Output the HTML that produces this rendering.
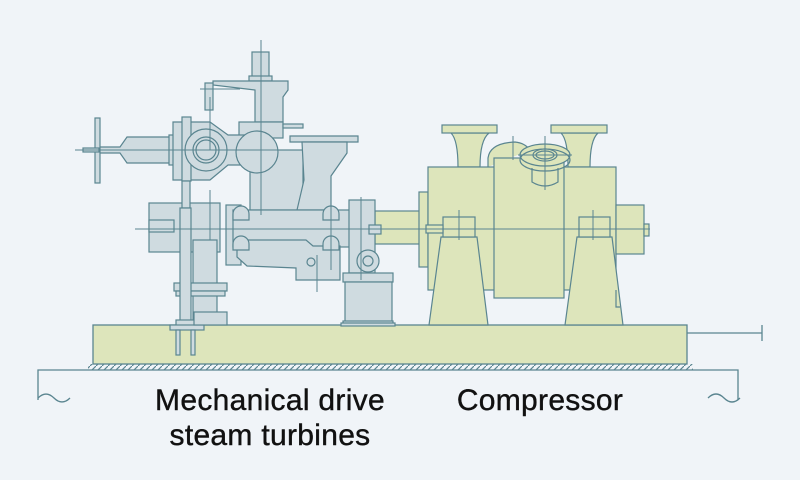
<!DOCTYPE html>
<html><head><style>
html,body{margin:0;padding:0;background:#f0f4f8;}
svg{display:block}
text{font-family:"Liberation Sans",sans-serif;font-size:30px;fill:#111;stroke:#111;stroke-width:0.4;letter-spacing:0.3px;}
</style></head><body>
<svg width="800" height="480" viewBox="0 0 800 480" xmlns="http://www.w3.org/2000/svg">
<defs>
<pattern id="h" width="6" height="6" patternUnits="userSpaceOnUse"><path d="M0 6 L6 0" stroke="#5a8590" stroke-width="1.2"/></pattern>
</defs>
<rect width="800" height="480" fill="#f0f4f8"/>
<g stroke="#5a8590" stroke-width="1.3" fill="none">
<rect x="88" y="364" width="605" height="6" fill="url(#h)" stroke="none"/>
<path d="M38 400 V370 H738 V400"/>
<path d="M38 398 q8 -8 16 0 t16 0"/>
<path d="M708 398 q8 -8 16 0 t16 0"/>
<path d="M687 333 H762 M762 325 V341"/>
<rect x="93" y="325" width="594" height="39" fill="#dde5bb"/>
</g>
<g stroke="#5a8590" stroke-width="1.2" fill="#dde5bb">
<rect x="375" y="211" width="55" height="33"/>
<rect x="419" y="192" width="9" height="75"/>
<path d="M458 167 Q458 140 451 133 H489 Q480 140 480 167 Z"/>
<path d="M568 167 Q568 140 561 133 H598 Q590 140 590 167 Z"/>
<rect x="442" y="125" width="55" height="8"/>
<rect x="551" y="125" width="56" height="8"/>
<path d="M488 167 V158 Q490 143 515 142 Q525 143 530 150"/>
<rect x="428" y="167" width="188" height="123"/>
<rect x="616" y="205" width="28" height="49"/>
<rect x="644" y="224" width="5" height="12"/>
<rect x="494" y="158" width="70" height="140"/>
<path d="M532 168 V182 Q545 190 558 182 V168"/>
<ellipse cx="545" cy="155" rx="25" ry="11"/>
<ellipse cx="545" cy="160" rx="25" ry="11" fill="none"/>
<ellipse cx="545" cy="155" rx="12" ry="6"/>
<ellipse cx="545" cy="155" rx="9" ry="4"/>
<path d="M441 237 L429 325 H488 L477 237 Z"/>
<rect x="443" y="217" width="32" height="20"/>
<path d="M577 237 L565 325 H623 L612 237 Z"/>
<rect x="579" y="217" width="31" height="20"/>
<path d="M616 290 V307 H620" fill="none"/>
<rect x="426" y="225" width="17" height="8"/>
</g>
<g stroke="#5a8590" stroke-width="1.2" fill="#cfdbe0">
<rect x="252" y="52" width="17" height="25"/>
<rect x="249" y="76" width="23" height="5"/>
<path d="M213 81 H288 V90 L283 97 V122 H255 V90 L213 85 Z"/>
<rect x="205" y="83" width="8" height="27"/>
<rect x="239" y="122" width="44" height="16"/>
<rect x="283" y="124" width="20" height="4"/>
<rect x="250" y="150" width="53" height="60"/>
<path d="M290 142 H358 V136 H290 Z"/>
<path d="M302 142 H347 V153 L331 176 V210 H297 L304 180 Z"/>
<rect x="149" y="203" width="71" height="49"/>
<rect x="149" y="220" width="25" height="12"/>
<rect x="193" y="240" width="24" height="83"/>
<rect x="174" y="283" width="53" height="8"/>
<rect x="176" y="291" width="49" height="5"/>
<rect x="226" y="205" width="15" height="60"/>
<rect x="233" y="210" width="134" height="37"/>
<path d="M237 240 H306 L313 246 H340 V280 H296 V268 L247 266 L237 257 Z"/>
<rect x="349" y="200" width="26" height="73"/>
<rect x="343" y="273" width="50" height="9"/>
<rect x="345" y="282" width="47" height="43"/>
<rect x="343" y="321" width="50" height="4"/>
<circle cx="368" cy="261" r="11"/>
<circle cx="368" cy="261" r="5"/>
<rect x="369" y="225" width="12" height="9"/>
<path d="M99 147 H120 L127 137 H173 V163 H127 L120 153 H99 Z"/>
<rect x="95" y="118" width="5" height="65"/>
<rect x="83" y="148" width="16" height="4"/>
<rect x="169" y="135" width="6" height="30"/>
<path d="M173 122 H210 L228 135 H250 V165 H228 L210 180 H173 Z"/>
<rect x="182" y="117" width="9" height="64"/>
<circle cx="206" cy="150" r="21"/>
<circle cx="206" cy="150" r="13"/>
<circle cx="206" cy="150" r="10"/>
<circle cx="257" cy="152" r="21"/>
<rect x="182" y="181" width="8" height="27"/>
<rect x="180" y="208" width="11" height="117"/>
<rect x="176" y="320" width="22" height="6"/>
<rect x="170" y="325" width="34" height="5"/>
<rect x="176" y="330" width="4" height="25"/>
<rect x="191" y="330" width="4" height="25"/>
<rect x="194" y="312" width="33" height="13"/>
<rect x="341" y="323" width="54" height="3"/>
<path d="M233 214 a8 8 0 0 1 16 0 v6 h-16 Z"/>
<path d="M233 244 a8 8 0 0 1 16 0 v6 h-16 Z"/>
<path d="M323 214 a8 8 0 0 1 16 0 v6 h-16 Z"/>
<path d="M323 244 a8 8 0 0 1 16 0 v6 h-16 Z"/>
<circle cx="311" cy="262" r="4"/>
</g>
<g stroke="#5a8590" stroke-width="1">
<path d="M135 229 H650"/>
<path d="M261 40 V215"/>
<path d="M75 150 H300"/>
<path d="M200 89 H240"/>
<path d="M210 97 V150"/>
<path d="M210 190 V240 M331 192 V270 M317 255 V292 M361 197 V280"/>
<path d="M459 210 V240 M593 210 V240 M545 136 V190 M513 136 V160"/>
<path d="M518 155 H572"/>
</g>
<text x="270" y="410" text-anchor="middle">Mechanical drive</text>
<text x="270" y="445" text-anchor="middle">steam turbines</text>
<text x="540" y="410" text-anchor="middle">Compressor</text>
</svg>
</body></html>
